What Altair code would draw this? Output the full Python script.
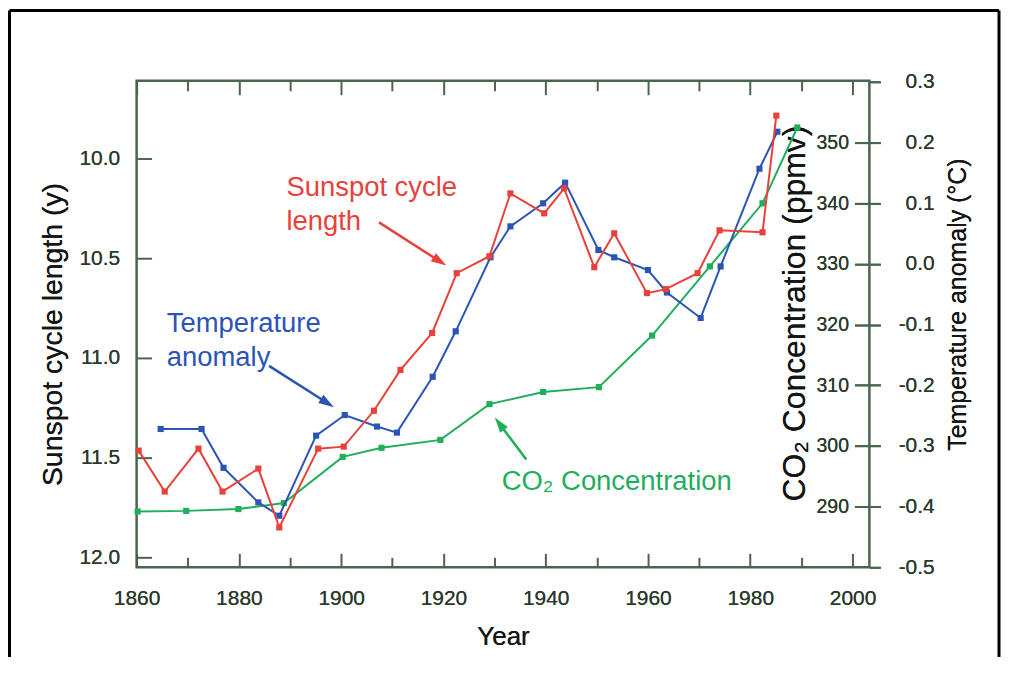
import math
import altair as alt
import pandas as pd

# ---------------- data ----------------
# Sunspot cycle length (red, left axis, reversed)
ss_year = [1860.4, 1865.5, 1872.1, 1876.8, 1883.8, 1887.9, 1895.5, 1900.5, 1906.4,
           1911.6, 1917.8, 1922.6, 1929.0, 1933.1, 1939.7, 1943.6, 1949.5, 1953.4,
           1959.8, 1963.5, 1969.7, 1974.0, 1982.4, 1985.1]
ss_len = [11.465, 11.67, 11.455, 11.67, 11.555, 11.85, 11.455, 11.445, 11.265,
          11.06, 10.875, 10.575, 10.49, 10.175, 10.275, 10.15, 10.545, 10.375,
          10.675, 10.655, 10.575, 10.36, 10.37, 9.785]

# Temperature anomaly (blue, right axis)
t_year = [1864.7, 1872.7, 1877.0, 1883.8, 1887.9, 1895.1, 1900.7, 1907.0, 1910.9,
          1917.9, 1922.4, 1929.2, 1933.1, 1939.5, 1943.8, 1950.3, 1953.4, 1960.0,
          1963.7, 1970.3, 1974.2, 1981.8, 1985.3]
t_anom = [-0.272, -0.272, -0.336, -0.393, -0.415, -0.283, -0.249, -0.268, -0.278,
          -0.186, -0.111, 0.011, 0.062, 0.100, 0.134, 0.023, 0.011, -0.010,
          -0.047, -0.089, -0.004, 0.157, 0.218]

# CO2 concentration (green, inner right axis)
co2_year = [1860.2, 1869.7, 1879.9, 1888.8, 1900.3, 1907.9, 1919.4, 1929.0, 1939.5,
            1950.4, 1960.8, 1972.1, 1982.4, 1989.2]
co2_ppm = [289.2, 289.3, 289.6, 290.6, 298.2, 299.7, 301.0, 306.9, 308.9,
           309.7, 318.2, 329.6, 340.0, 352.5]

# tick values
major_years = [1860, 1880, 1900, 1920, 1940, 1960, 1980, 2000]
minor_years = [1870, 1890, 1910, 1930, 1950, 1970, 1990]
ss_ticks = [10.0, 10.5, 11.0, 11.5, 12.0]
co2_ticks = [290, 300, 310, 320, 330, 340, 350]
t_ticks = [-0.5, -0.4, -0.3, -0.2, -0.1, 0.0, 0.1, 0.2, 0.3]

# annotations (in year / sunspot-length coordinates)
ann_text = ["Sunspot cycle", "length", "Temperature", "anomaly", "CO\u2082 Concentration"]
ann_year = [1889.3, 1889.3, 1865.9, 1865.9, 1931.4]
ann_v = [10.19, 10.36, 10.87, 11.04, 11.66]
ann_col = ["#e8413a", "#e8413a", "#2b54b5", "#2b54b5", "#1fae5c"]

arr_year = [1907.4, 1885.9, 1936.2]
arr_v = [10.32, 11.04, 11.51]
arr_year2 = [1919.3, 1897.3, 1930.95]
arr_v2 = [10.516, 11.226, 11.33]
arr_col = ["#e8413a", "#2b54b5", "#1fae5c"]

# ---------------- layout / style ----------------
W, H = 735, 488
X_DOM = [1860, 2003.3]
SS_DOM = [9.61, 12.05]
CO2_DOM = [280, 360.2]
T_DOM = [-0.5, 0.302]

RED, BLUE, GREEN = "#e8413a", "#2b54b5", "#1fae5c"
FRAME = "#4a654e"
LABEL = "#2a3a2c"
FONT = "Liberation Sans"

xs = alt.Scale(domain=X_DOM, nice=False, zero=False)
ss_s = alt.Scale(domain=SS_DOM, reverse=True, nice=False, zero=False)
co2_s = alt.Scale(domain=CO2_DOM, nice=False, zero=False)
t_s = alt.Scale(domain=T_DOM, nice=False, zero=False)

ss_df = pd.DataFrame({"year": ss_year, "v": ss_len})
t_df = pd.DataFrame({"year": t_year, "v": t_anom})
co2_df = pd.DataFrame({"year": co2_year, "v": co2_ppm})
ann_df = pd.DataFrame({"year": ann_year, "v": ann_v, "label": ann_text, "col": ann_col})

px_year = W / (X_DOM[1] - X_DOM[0])
px_ss = H / (SS_DOM[1] - SS_DOM[0])
angles = []
for a, b, c, d in zip(arr_year, arr_v, arr_year2, arr_v2):
    dx = (c - a) * px_year
    dy = (d - b) * px_ss
    angles.append(math.degrees(math.atan2(dx, -dy)) % 360)
arr_df = pd.DataFrame({"year": arr_year, "v": arr_v, "year2": arr_year2, "v2": arr_v2,
                       "col": arr_col, "ang": angles})
dummy = pd.DataFrame({"k": [0]})


def tick_axis(orient, values, size):
    return alt.Axis(orient=orient, offset=-H if orient in ("top", "bottom") else -W,
                    values=values, tickSize=size, tickWidth=2, tickColor=FRAME,
                    labels=False, domain=False, title=None, grid=False)


# inward ticks (axes displaced to the opposite edge)
tick_a = alt.Chart(ss_df).mark_point(opacity=0).encode(
    x=alt.X("year:Q", scale=xs, axis=tick_axis("bottom", major_years, 14)),
    y=alt.Y("v:Q", scale=ss_s, axis=tick_axis("right", ss_ticks, 15)),
)
tick_b = alt.Chart(ss_df).mark_point(opacity=0).encode(
    x=alt.X("year:Q", scale=xs, axis=tick_axis("bottom", minor_years, 10)),
    y=alt.Y("v:Q", scale=ss_s, axis=None),
)
tick_c = alt.Chart(ss_df).mark_point(opacity=0).encode(
    x=alt.X("year:Q", scale=xs, axis=tick_axis("top", major_years, 14)),
    y=alt.Y("v:Q", scale=ss_s, axis=None),
)
tick_d = alt.Chart(ss_df).mark_point(opacity=0).encode(
    x=alt.X("year:Q", scale=xs, axis=tick_axis("top", minor_years, 10)),
    y=alt.Y("v:Q", scale=ss_s, axis=None),
)

# CO2 (green)
co2_base = alt.Chart(co2_df).encode(
    x=alt.X("year:Q", scale=xs, axis=None),
    y=alt.Y("v:Q", scale=co2_s, axis=alt.Axis(
        orient="left", offset=-W, values=co2_ticks, format="d", tickSize=15,
        tickWidth=2, tickColor=FRAME, labelPadding=6, labelFontSize=19.5,
        labelFlush=False, domain=False, grid=False, title="CO\u2082 Concentration (ppmv)",
        titleFontSize=32, titlePadding=5, titleY=233, titleFontWeight="normal")),
)
co2_line = co2_base.mark_line(color=GREEN, strokeWidth=2)
co2_pts = co2_base.mark_square(color=GREEN, size=38, opacity=1)

# Temperature (blue)
t_base = alt.Chart(t_df).encode(
    x=alt.X("year:Q", scale=xs, axis=None),
    y=alt.Y("v:Q", scale=t_s, axis=alt.Axis(
        orient="right", values=t_ticks, tickSize=11, tickWidth=2, tickColor=FRAME,
        labelExpr="(datum.value < -0.00001 ? '-' : '') + format(abs(datum.value), '.1f')",
        labelAlign="right", labelPadding=54, labelFontSize=21, labelFlush=False,
        domain=False, grid=False, title="Temperature anomaly (\u00b0C)",
        titleFontSize=25, titleAngle=270, titleBaseline="top",
        titlePadding=11, titleY=224, titleFontWeight="normal")),
)
t_line = t_base.mark_line(color=BLUE, strokeWidth=2)
t_pts = t_base.mark_square(color=BLUE, size=38, opacity=1)

# Sunspot (red) – carries the labelled x and left axes
ss_base = alt.Chart(ss_df).encode(
    x=alt.X("year:Q", scale=xs, axis=alt.Axis(
        orient="bottom", values=major_years, format="d", tickSize=0, labelPadding=20,
        labelFontSize=21, labelFlush=False, labelOverlap=False, domain=False,
        grid=False, title="Year", titleFontSize=26, titlePadding=15,
        titleFontWeight="normal")),
    y=alt.Y("v:Q", scale=ss_s, axis=alt.Axis(
        orient="left", values=ss_ticks, format=".1f", tickSize=0, labelPadding=17,
        labelFontSize=21, labelFlush=False, domain=False, grid=False,
        title="Sunspot cycle length (y)", titleFontSize=28.5, titlePadding=11,
        titleY=254, titleFontWeight="normal")),
)
ss_line = ss_base.mark_line(color=RED, strokeWidth=2)
ss_pts = ss_base.mark_square(color=RED, size=38, opacity=1)

# annotations
ann = alt.Chart(ann_df).mark_text(align="left", baseline="alphabetic", fontSize=27.5,
                                  font=FONT).encode(
    x=alt.X("year:Q", scale=xs, axis=None),
    y=alt.Y("v:Q", scale=ss_s, axis=None),
    text="label:N",
    color=alt.Color("col:N", scale=None),
)
arrows = alt.Chart(arr_df).mark_rule(strokeWidth=2.5).encode(
    x=alt.X("year:Q", scale=xs, axis=None),
    x2="year2:Q",
    y=alt.Y("v:Q", scale=ss_s, axis=None),
    y2="v2:Q",
    color=alt.Color("col:N", scale=None),
)
heads = alt.Chart(arr_df).mark_point(shape="M0,-1L0.62,1L-0.62,1Z", filled=True,
                                     size=240, opacity=1).encode(
    x=alt.X("year2:Q", scale=xs, axis=None),
    y=alt.Y("v2:Q", scale=ss_s, axis=None),
    angle=alt.Angle("ang:Q", scale=None),
    color=alt.Color("col:N", scale=None),
)

# outer figure border (left, top, right)
b_left = alt.Chart(dummy).mark_rule(color="#000000", strokeWidth=3).encode(
    x=alt.value(-127.5), y=alt.value(-70.5), y2=alt.value(578))
b_top = alt.Chart(dummy).mark_rule(color="#000000", strokeWidth=3).encode(
    x=alt.value(-127.5), x2=alt.value(865), y=alt.value(-70.5))
b_right = alt.Chart(dummy).mark_rule(color="#000000", strokeWidth=3).encode(
    x=alt.value(865), y=alt.value(-70.5), y2=alt.value(578))

chart = alt.layer(
    b_left, b_top, b_right,
    tick_a, tick_b, tick_c, tick_d,
    co2_line, co2_pts, t_line, t_pts, ss_line, ss_pts,
    arrows, heads, ann,
).resolve_scale(
    x="independent", y="independent"
).resolve_axis(
    x="independent", y="independent"
).properties(
    width=W, height=H,
    padding={"left": 0, "top": 0, "right": 0, "bottom": 0},
    background="white",
).configure_view(
    stroke=FRAME, strokeWidth=2.5
).configure_axis(
    labelFont=FONT, titleFont=FONT, labelColor=LABEL, titleColor="#151515", grid=False
)

chart.save("out.html", embed_options={"renderer": "svg", "actions": False})
